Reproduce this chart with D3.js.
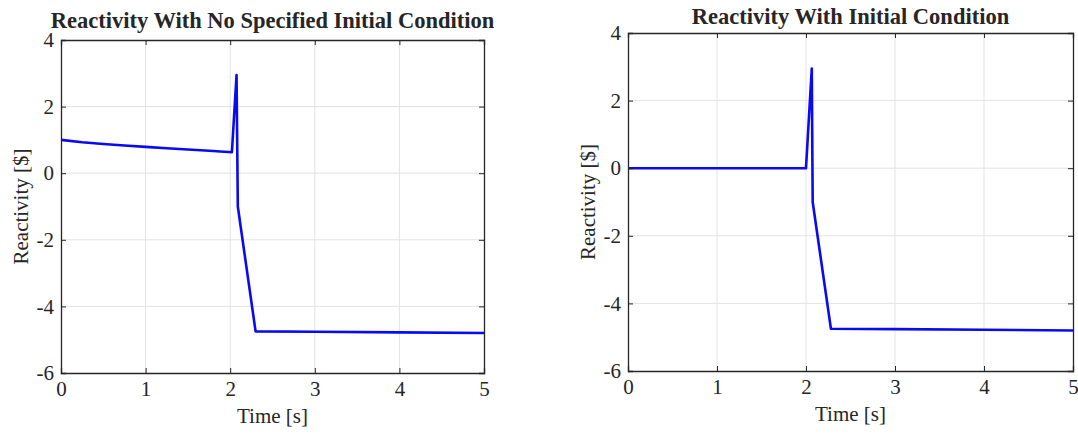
<!DOCTYPE html>
<html>
<head>
<meta charset="utf-8">
<script src="https://cdn.jsdelivr.net/npm/d3@7"></script>
<style>
  html, body { margin: 0; padding: 0; background: #fff; }
  svg { display: block; }
  text { font-family: "Liberation Serif", "Times New Roman", serif; fill: #262626; }
</style>
</head>
<body>
<svg id="chart" width="1078" height="435"></svg>
<script>
// Reactivity traces (time in s, reactivity in $)
const timeNoInit = [0, 0.25, 0.5, 0.75, 1.0, 1.25, 1.5, 1.75, 2.02, 2.075, 2.09, 2.3, 3.0, 4.0, 5.0];
const reactNoInit = [1.0, 0.93, 0.875, 0.83, 0.79, 0.75, 0.71, 0.675, 0.63, 2.95, -1.0, -4.75, -4.76, -4.78, -4.8];

const timeInit = [0, 1.0, 2.0, 2.065, 2.075, 2.28, 3.0, 4.0, 5.0];
const reactInit = [0, 0, 0, 2.95, -1.0, -4.75, -4.76, -4.78, -4.8];

const xTicks = [0, 1, 2, 3, 4, 5];
const yTicks = [-6, -4, -2, 0, 2, 4];
const titles = ["Reactivity With No Specified Initial Condition", "Reactivity With Initial Condition"];
const xLabel = "Time [s]";
const yLabel = "Reactivity [$]";

const panels = [
  { t: timeNoInit, r: reactNoInit, title: titles[0], box: { x0: 61, x1: 484, y0: 40, y1: 373 }, titleY: 28 },
  { t: timeInit, r: reactInit, title: titles[1], box: { x0: 628, x1: 1073, y0: 33, y1: 371 }, titleY: 24 }
];

const svg = d3.select("#chart");
const fmt = d => String(d); // plain hyphen for negatives

panels.forEach(p => {
  const b = p.box;
  const x = d3.scaleLinear().domain([0, 5]).range([b.x0, b.x1]);
  const y = d3.scaleLinear().domain([-6, 4]).range([b.y1, b.y0]);
  const g = svg.append("g");

  // grid
  g.append("g").selectAll("line").data(xTicks.slice(1, -1)).join("line")
    .attr("x1", d => x(d)).attr("x2", d => x(d))
    .attr("y1", b.y0).attr("y2", b.y1)
    .attr("stroke", "#e3e3e3").attr("stroke-width", 1);
  g.append("g").selectAll("line").data(yTicks.slice(1, -1)).join("line")
    .attr("x1", b.x0).attr("x2", b.x1)
    .attr("y1", d => y(d)).attr("y2", d => y(d))
    .attr("stroke", "#e3e3e3").attr("stroke-width", 1);

  // data line
  const line = d3.line().x((d, i) => x(p.t[i])).y(d => y(d)).curve(d3.curveLinear);
  g.append("path").datum(p.r)
    .attr("d", line)
    .attr("fill", "none")
    .attr("stroke", "#0a0af2")
    .attr("stroke-width", 2.6)
    .attr("stroke-linejoin", "round");

  // axes with inward ticks, mirrored box
  const tk = 5;
  const bottom = d3.axisBottom(x).tickValues(xTicks).tickSize(-tk).tickPadding(8).tickFormat(fmt);
  const top = d3.axisTop(x).tickValues(xTicks).tickSize(-tk).tickFormat("");
  const left = d3.axisLeft(y).tickValues(yTicks).tickSize(-tk).tickPadding(7).tickFormat(fmt);
  const right = d3.axisRight(y).tickValues(yTicks).tickSize(-tk).tickFormat("");

  const styleAxis = sel => {
    sel.select(".domain").attr("stroke", "#262626").attr("stroke-width", 1.3);
    sel.selectAll(".tick line").attr("stroke", "#262626").attr("stroke-width", 1);
    sel.selectAll("text").attr("font-size", 21).attr("fill", "#262626")
      .attr("font-family", "'Liberation Serif', 'Times New Roman', serif");
  };

  g.append("g").attr("transform", `translate(0,${b.y1})`).call(bottom).call(styleAxis);
  g.append("g").attr("transform", `translate(0,${b.y0})`).call(top).call(styleAxis);
  g.append("g").attr("transform", `translate(${b.x0},0)`).call(left).call(styleAxis);
  g.append("g").attr("transform", `translate(${b.x1},0)`).call(right).call(styleAxis);

  // titles and labels
  g.append("text")
    .attr("x", (b.x0 + b.x1) / 2).attr("y", p.titleY)
    .attr("text-anchor", "middle")
    .attr("font-size", 22.5).attr("font-weight", "bold").attr("fill", "#000")
    .text(p.title);

  g.append("text")
    .attr("x", (b.x0 + b.x1) / 2).attr("y", b.y1 + 50)
    .attr("text-anchor", "middle")
    .attr("font-size", 21)
    .text(xLabel);

  g.append("text")
    .attr("transform", `translate(${b.x0 - 33},${(b.y0 + b.y1) / 2}) rotate(-90)`)
    .attr("text-anchor", "middle")
    .attr("font-size", 21)
    .text(yLabel);
});
</script>
</body>
</html>
